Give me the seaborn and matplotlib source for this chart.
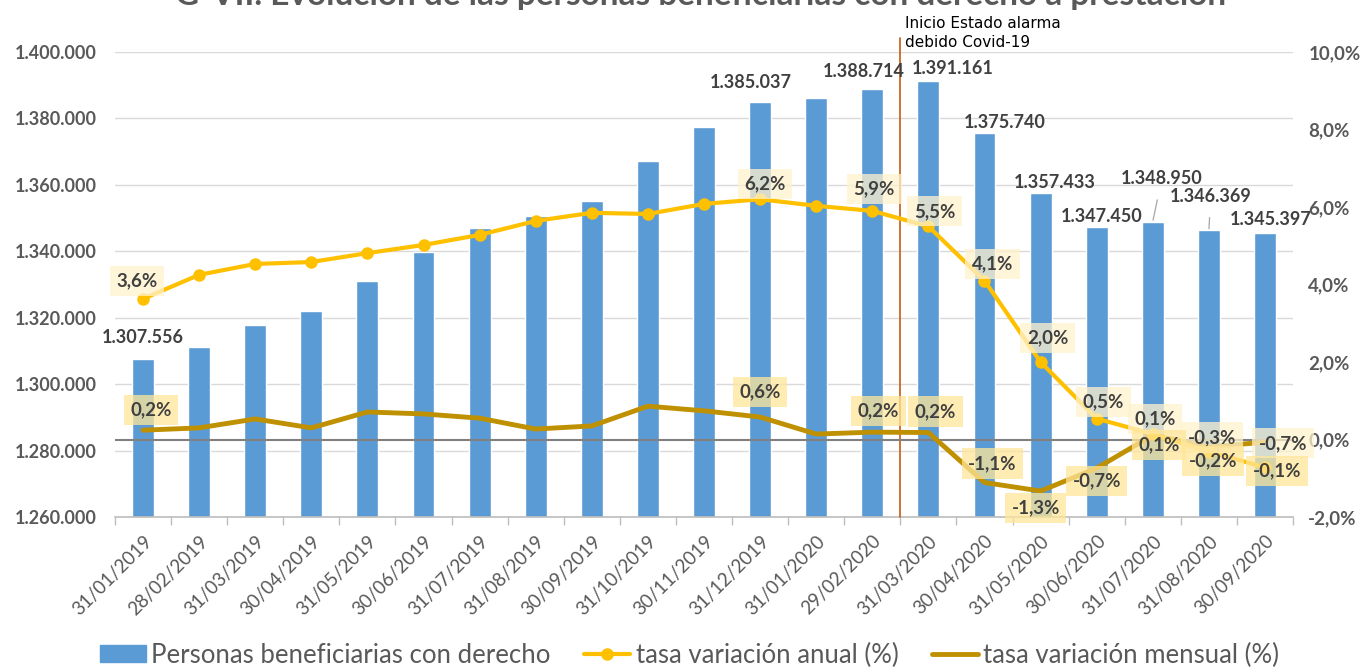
import numpy as np
import pandas as pd
import matplotlib
matplotlib.use('Agg')
import matplotlib.pyplot as plt
import matplotlib.transforms as mtransforms
from matplotlib.patches import Patch
from matplotlib.lines import Line2D
import seaborn as sns

fechas = ['31/01/2019', '28/02/2019', '31/03/2019', '30/04/2019', '31/05/2019',
          '30/06/2019', '31/07/2019', '31/08/2019', '30/09/2019', '31/10/2019',
          '30/11/2019', '31/12/2019', '31/01/2020', '29/02/2020', '31/03/2020',
          '30/04/2020', '31/05/2020', '30/06/2020', '31/07/2020', '31/08/2020',
          '30/09/2020']
beneficiarios = [1307556, 1311200, 1317800, 1322000, 1331000, 1339800, 1347000,
                 1350600, 1355100, 1367200, 1377400, 1385037, 1386100, 1388714,
                 1391161, 1375740, 1357433, 1347450, 1348950, 1346369, 1345397]
tasa_anual = [3.63, 4.25, 4.53, 4.58, 4.81, 5.02, 5.28, 5.64, 5.85, 5.82, 6.08,
              6.20, 6.03, 5.90, 5.50, 4.10, 2.00, 0.54, 0.14, -0.31, -0.72]
tasa_mensual = [0.24, 0.30, 0.53, 0.30, 0.71, 0.66, 0.55, 0.27, 0.35, 0.86, 0.74,
                0.58, 0.14, 0.19, 0.18, -1.11, -1.33, -0.74, 0.11, -0.19, -0.07]

# puntos con etiqueta
idx_etiq = [0, 11, 13, 14, 15, 16, 17, 18, 19, 20]

titulo = 'G-VII. Evolución de las personas beneficiarias con derecho a prestación'
nota = 'Inicio Estado alarma\ndebido Covid-19'
leyenda = ['Personas beneficiarias con derecho', 'tasa variación anual (%)',
           'tasa variación mensual (%)']

AZUL = '#5B9BD5'
AMARILLO = '#FFC000'
ORO = '#BF9000'
GRIS = '#595959'
TEXTO = '#404040'

# desplazamientos de etiquetas en pixeles (dx, dy)
off_barras = {0: (0, 22), 11: (-9, 19), 13: (-9, 18), 14: (24, 13), 15: (20, 10),
              16: (14, 11), 17: (5, 10), 18: (9, 43), 19: (2, 34), 20: (6, 14)}
off_anual = {0: (-6, 18), 11: (5, 15), 13: (2, 22), 14: (6, 15), 15: (8, 17),
             16: (7, 24), 17: (7, 17), 18: (2, 15), 19: (3, 14), 20: (18, 24)}
off_mensual = {0: (8, 20), 11: (0, 25), 13: (6, 21), 14: (7, 21), 15: (8, 19),
               16: (-5, -17), 17: (0, -13), 18: (6, -10), 19: (4, -14), 20: (12, -29)}

df = pd.DataFrame({'fecha': fechas, 'beneficiarios': beneficiarios,
                   'anual': tasa_anual, 'mensual': tasa_mensual})
df['pos'] = np.arange(len(df))

sns.set_theme(style='white')
plt.rcParams['font.family'] = ['Lato', 'DejaVu Sans']

fig = plt.figure(figsize=(13.6, 6.67), dpi=100)
ax = fig.add_axes([115 / 1360, 1 - 517 / 667, 1178 / 1360, 465 / 667])

sns.barplot(data=df, x='fecha', y='beneficiarios', color=AZUL, saturation=1,
            width=0.39, ax=ax, zorder=2)
ax.set_xlim(-0.5, len(df) - 0.5)
ax.set_ylim(1260000, 1400000)
ax.set_yticks(np.arange(1260000, 1400001, 20000))
ax.set_yticklabels([f'{v:,.0f}'.replace(',', '.') for v in ax.get_yticks()])
ax.yaxis.grid(True, color='#D9D9D9', lw=1)
ax.set_axisbelow(True)
ax.set_xlabel('')
ax.set_ylabel('')
for s in ['top', 'right', 'left']:
    ax.spines[s].set_visible(False)
ax.spines['bottom'].set_color('#BFBFBF')
ax.set_xticks(df['pos'])
ax.set_xticklabels(fechas, rotation=45, ha='right', rotation_mode='anchor',
                   fontsize=13.5, color=GRIS)
ax.set_xticks(np.arange(-0.5, len(df), 1), minor=True)
ax.tick_params(axis='x', which='major', length=0, pad=11)
ax.tick_params(axis='x', which='minor', length=6, color='#BFBFBF', bottom=True)
ax.tick_params(axis='y', length=0, labelsize=13, labelcolor=GRIS, pad=13)
for t in ax.get_yticklabels():
    t.set_fontweight('bold')

ax2 = ax.twinx()
ax2.set_ylim(-2, 10)
ax2.axhline(0, color='#808080', lw=1.5, zorder=1)
sns.lineplot(data=df, x='pos', y='anual', ax=ax2, color=AMARILLO, lw=3,
             marker='o', markersize=9, markeredgewidth=0, zorder=4)
sns.lineplot(data=df, x='pos', y='mensual', ax=ax2, color=ORO, lw=3.5, zorder=3)
ax2.set_xlim(-0.5, len(df) - 0.5)
ax2.set_yticks(np.arange(-2, 10.1, 2))
ax2.set_yticklabels([f'{v:.1f}%'.replace('.', ',') for v in ax2.get_yticks()])
ax2.tick_params(axis='y', length=0, labelsize=13.5, labelcolor=GRIS, pad=11)
for t in ax2.get_yticklabels():
    t.set_fontweight('bold')
ax2.set_xlabel('')
ax2.set_ylabel('')
for s in ax2.spines.values():
    s.set_visible(False)

# linea del estado de alarma
ax.axvline(13.5, ymin=0, ymax=1.03, color='#C55A11', lw=1.2, clip_on=False, zorder=5)
trans = mtransforms.blended_transform_factory(ax.transData, ax.transAxes)
ax.annotate(nota, xy=(13.5, 1.0), xycoords=trans, xytext=(5, 2),
            textcoords='offset pixels', ha='left', va='bottom', fontsize=11,
            family=['Liberation Sans Narrow', 'DejaVu Sans'], color='black',
            linespacing=1.3, annotation_clip=False)

# etiquetas de barras
for i in idx_etiq:
    dx, dy = off_barras[i]
    txt = f'{beneficiarios[i]:,.0f}'.replace(',', '.')
    props = None
    if i in (18, 19):
        props = dict(arrowstyle='-', color='#A6A6A6', lw=0.9, shrinkA=7, shrinkB=1)
    ax.annotate(txt, xy=(i, beneficiarios[i]), xytext=(dx, dy),
                textcoords='offset pixels', ha='center', va='center',
                fontsize=13, fontweight='bold', color=TEXTO,
                arrowprops=props, zorder=6)

# etiquetas de tasas
for serie, offs, fondo in [(tasa_anual, off_anual, '#FFF2CC'),
                           (tasa_mensual, off_mensual, '#FFE699')]:
    for i in idx_etiq:
        dx, dy = offs[i]
        txt = f'{serie[i]:.1f}%'.replace('.', ',')
        ax2.annotate(txt, xy=(i, serie[i]), xytext=(dx, dy),
                     textcoords='offset pixels', ha='center', va='center',
                     fontsize=13.5, fontweight='bold', color=TEXTO, zorder=7,
                     bbox=dict(boxstyle='square,pad=0.35', fc=fondo, ec='none',
                               alpha=0.75))

fig.text(0.515, 1 - 5 / 667, titulo, ha='center', va='baseline', fontsize=24,
         fontweight='bold', color=GRIS)

handles = [Patch(color=AZUL),
           Line2D([], [], color=AMARILLO, lw=3, marker='o', markersize=9,
                  markeredgewidth=0),
           Line2D([], [], color=ORO, lw=3.5)]
fig.legend(handles, leyenda, loc='center', bbox_to_anchor=(0.507, 0.018), ncol=3,
           frameon=False, fontsize=18.5, labelcolor=GRIS, handlelength=1.8,
           handleheight=0.65, handletextpad=0.2, columnspacing=1.3)

fig.savefig('out.png', dpi=100)
